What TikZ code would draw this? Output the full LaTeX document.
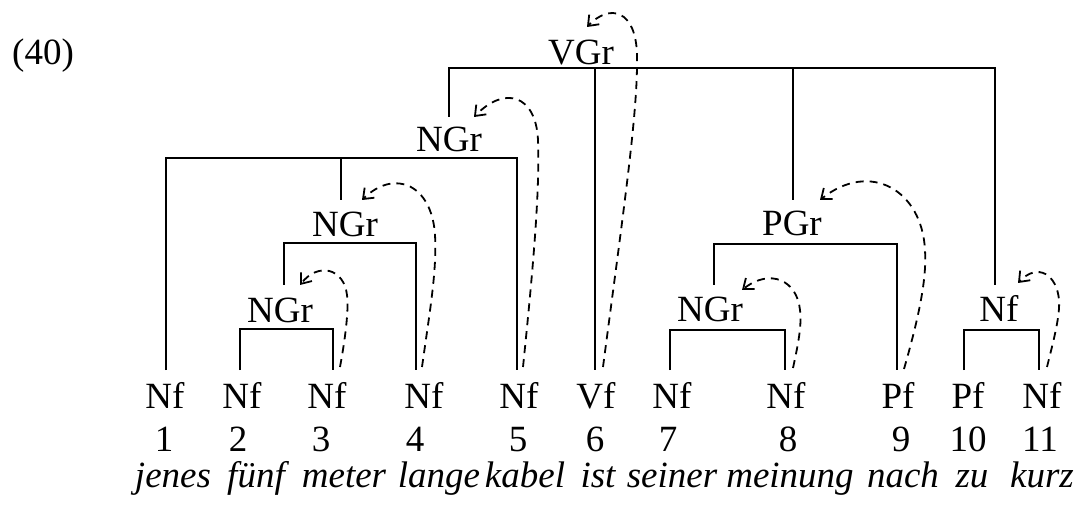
\documentclass[tikz,border=0pt]{standalone}
\usepackage{fontspec}
\setmainfont{Liberation Serif}
\usetikzlibrary{arrows.meta}
\begin{document}
\begin{tikzpicture}[x=1pt,y=-1pt,
  lbl/.style={anchor=base,inner sep=0pt,font=\fontsize{37}{40}\selectfont},
  wrd/.style={lbl,font=\fontsize{37}{40}\selectfont\itshape},
  tree/.style={line width=2.1pt},
  mv/.style={line width=1.8pt,dash pattern=on 8pt off 6pt,-{Straight Barb[length=9pt,width=14pt,line width=1.8pt]}}]
\useasboundingbox (0,0) rectangle (1080,505);
% example number
\node[lbl,anchor=base west] (ex) at (12,65) {(40)};
% inner labels
\node[lbl] (vgr) at (581,65) {VGr};
\node[lbl] (ngrc) at (449,152) {NGr};
\node[lbl] (ngrb) at (345,237) {NGr};
\node[lbl] (ngra) at (280,323) {NGr};
\node[lbl] (pgr) at (792,236) {PGr};
\node[lbl] (ngrd) at (710,322) {NGr};
\node[lbl] (nfe) at (999,322) {Nf};
% leaves
\foreach \i/\x/\t in {1/165/Nf,2/242/Nf,3/327/Nf,4/424/Nf,5/519/Nf,6/596/Vf,7/672/Nf,8/786/Nf,9/898/Pf,10/968/Pf,11/1042/Nf}
  \node[lbl] (l\i) at (\x,408) {\t};
\foreach \i/\x in {1/164,2/238,3/321,4/415,5/518,6/595,7/668,8/788,9/901,10/968,11/1040}
  \node[lbl] (n\i) at (\x,451) {\i};
\foreach \i/\x/\t in {1/173/jenes,2/256/fünf,3/344/meter,4/439/lange,5/525/kabel,6/598/ist,7/672/seiner,8/790/meinung,9/903/nach,10/972/zu,11/1042/kurz}
  \node[wrd] (w\i) at (\x,487) {\t};
% line ends
\foreach \i/\x in {1/166,2/240,3/333,4/416,5/517,6/595,7/670,8/785,9/897,10/964,11/1039}
  \coordinate (t\i) at (\x,370);
\coordinate (vgrb) at (595,68);
\coordinate (ngrcb) at (341,158);
\coordinate (ngrbb) at (284,243);
\coordinate (ngrab) at (286,329);
\coordinate (pgrb) at (714,244);
\coordinate (ngrdb) at (727,330);
\coordinate (nfeb) at (1000,330);
\coordinate (ngrct) at (449,117);
\coordinate (ngrbt) at (341,200);
\coordinate (ngrat) at (284,285);
\coordinate (pgrt) at (793,200);
\coordinate (ngrdt) at (714,285);
\coordinate (nfet) at (995,285);
% tree
\draw[tree] (ngrct) |- (vgrb) -| (nfet);
\draw[tree] (vgrb) -- (t6);
\draw[tree] (pgrt) -- (pgrt |- vgrb);
\draw[tree] (t1) |- (ngrcb) -| (t5);
\draw[tree] (ngrcb) -- (ngrbt);
\draw[tree] (ngrat) |- (ngrbb) -| (t4);
\draw[tree] (t2) |- (ngrab) -| (t3);
\draw[tree] (ngrdt) |- (pgrb) -| (t9);
\draw[tree] (t7) |- (ngrdb) -| (t8);
\draw[tree] (t10) |- (nfeb) -| (t11);
% movement arrows
\coordinate (s6) at (603,367); \coordinate (h6) at (587,27);
\coordinate (s5) at (523,367); \coordinate (h5) at (474,117);
\coordinate (s4) at (422,367); \coordinate (h4) at (362,200);
\coordinate (s3) at (340,367); \coordinate (h3) at (300,285);
\coordinate (s9) at (904,369); \coordinate (h9) at (820,200);
\coordinate (s8) at (793,368); \coordinate (h8) at (742,290);
\coordinate (s11) at (1047,367); \coordinate (h11) at (1018,283);
\draw[mv] (s6) .. controls (625,200) and (638,110) .. (637,55) .. controls (636,10) and (610,3) .. (h6);
\draw[mv] (s5) .. controls (533,270) and (540,190) .. (538,140) .. controls (536,95) and (505,85) .. (h5);
\draw[mv] (s4) .. controls (430,310) and (437,270) .. (435,235) .. controls (432,185) and (395,168) .. (h4);
\draw[mv] (s3) .. controls (345,340) and (349,310) .. (347,295) .. controls (344,268) and (318,262) .. (h3);
\draw[mv] (s9) .. controls (918,320) and (927,280) .. (925,250) .. controls (922,190) and (870,160) .. (h9);
\draw[mv] (s8) .. controls (798,345) and (802,325) .. (800,310) .. controls (797,280) and (770,268) .. (h8);
\draw[mv] (s11) .. controls (1055,335) and (1060,315) .. (1059,300) .. controls (1057,275) and (1038,262) .. (h11);
\end{tikzpicture}
\end{document}
